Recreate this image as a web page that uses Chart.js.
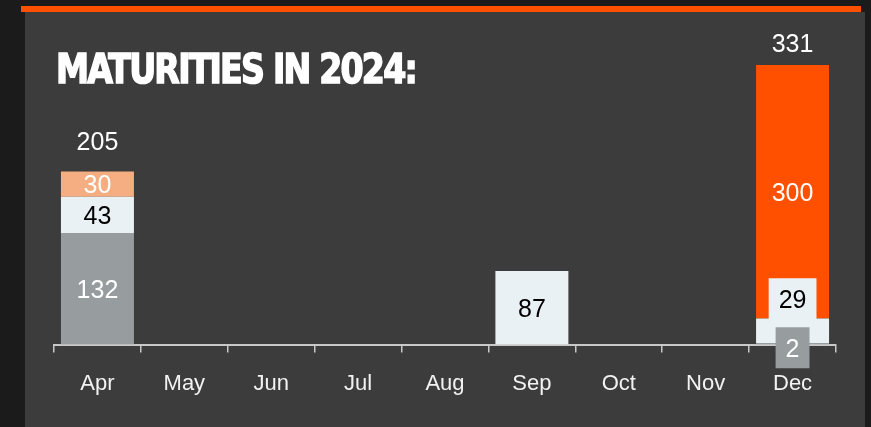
<!DOCTYPE html>
<html>
<head>
<meta charset="utf-8">
<script src="https://cdn.jsdelivr.net/npm/chart.js@4/dist/chart.umd.min.js"></script>
<style>
  html,body{margin:0;padding:0;background:#1b1b1b;width:871px;height:427px;overflow:hidden;}
  #panel{position:absolute;left:25px;top:12px;width:840px;height:415px;background:#3c3c3c;}
  #topbar{position:absolute;left:21px;top:6px;width:840px;height:6px;background:#ff5000;}
  #title{position:absolute;left:56px;top:49px;color:#fff;font-family:"DejaVu Sans Condensed","DejaVu Sans",sans-serif;font-weight:bold;font-size:41px;line-height:1;white-space:nowrap;transform-origin:0 0;letter-spacing:-2px;-webkit-text-stroke:1.5px #fff;}
  #wrap{position:absolute;left:0;top:0;width:871px;height:427px;}
</style>
</head>
<body>
<div id="panel"></div>
<div id="topbar"></div>
<div id="wrap"><canvas id="c" width="871" height="427"></canvas></div>
<div id="title">MATURITIES IN 2024:</div>
<script>
const months = ["Apr","May","Jun","Jul","Aug","Sep","Oct","Nov","Dec"];
const seriesGray   = [132, null, null, null, null, null, null, null, 2];
const seriesLight  = [43,  null, null, null, null, 87,   null, null, 29];
const seriesPeach  = [30,  null, null, null, null, null, null, null, null];
const seriesOrange = [null,null, null, null, null, null, null, null, 300];
const totals       = [205, null, null, null, null, null, null, null, 331];

const colGray = "#979d9f", colLight = "#e9f1f5", colPeach = "#f4ae82", colOrange = "#ff5000";

// fit title width
(function(){
  const t = document.getElementById('title');
  const w = t.getBoundingClientRect().width;
  t.style.transform = 'scaleX(' + (360 / w) + ')';
})();

const labelFont = '25px "Liberation Sans", Arial, sans-serif';

const labelPlugin = {
  id: 'segLabels',
  afterDatasetsDraw(chart) {
    const ctx = chart.ctx;
    ctx.save();
    ctx.font = labelFont;
    ctx.textAlign = 'center';
    ctx.textBaseline = 'middle';
    const n = chart.data.labels.length;
    for (let i = 0; i < n; i++) {
      let prevBoxTop = null;
      chart.data.datasets.forEach((ds, di) => {
        const v = ds.data[i];
        if (v == null) return;
        const el = chart.getDatasetMeta(di).data[i];
        const top = Math.min(el.y, el.base), bot = Math.max(el.y, el.base);
        const h = bot - top;
        let cy = (top + bot) / 2;
        const txt = String(v);
        const tw = ctx.measureText(txt).width;
        const boxH = 41;
        let boxed = false;
        if (prevBoxTop !== null && cy + boxH / 2 > prevBoxTop - 8) {
          cy = prevBoxTop - 8 - boxH / 2;
          boxed = true;
        } else if (h < 20) {
          cy += 4;
          boxed = true;
        }
        if (boxed) {
          const bw = tw + 20;
          ctx.fillStyle = ds.backgroundColor;
          ctx.fillRect(el.x - bw / 2, cy - boxH / 2, bw, boxH);
          prevBoxTop = cy - boxH / 2;
        }
        ctx.fillStyle = ds.labelColor;
        ctx.fillText(txt, el.x, cy + 2);
      });
      const tot = totals[i];
      if (tot != null) {
        const y = chart.scales.y.getPixelForValue(tot);
        const cy = Math.max(y - 29.5, chart.chartArea.top - 21);
        ctx.fillStyle = '#ffffff';
        ctx.fillText(String(tot), chart.scales.x.getPixelForValue(i), cy + 1);
      }
    }
    ctx.restore();
  }
};

new Chart(document.getElementById('c'), {
  type: 'bar',
  data: {
    labels: months,
    datasets: [
      { label: 'a', data: seriesGray,   backgroundColor: colGray,   labelColor: '#ffffff' },
      { label: 'b', data: seriesLight,  backgroundColor: colLight,  labelColor: '#000000' },
      { label: 'c', data: seriesPeach,  backgroundColor: colPeach,  labelColor: '#ffffff' },
      { label: 'd', data: seriesOrange, backgroundColor: colOrange, labelColor: '#ffffff' }
    ]
  },
  options: {
    responsive: false,
    animation: false,
    layout: { padding: { left: 54, right: 35, top: 65, bottom: 12 } },
    datasets: { bar: { categoryPercentage: 0.84, barPercentage: 1, borderWidth: 0 } },
    plugins: { legend: { display: false }, tooltip: { enabled: false } },
    scales: {
      x: {
        stacked: true,
        offset: true,
        grid: { display: true, offset: true, drawOnChartArea: false, tickLength: 8, color: '#c8c8c8', lineWidth: 1.5 },
        border: { display: true, color: '#c8c8c8', width: 2 },
        ticks: { color: '#f2f2f2', padding: 18, font: { family: '"Liberation Sans", Arial, sans-serif', size: 22 } }
      },
      y: { stacked: true, display: false, min: 0, max: 331 }
    }
  },
  plugins: [labelPlugin]
});
</script>
</body>
</html>
